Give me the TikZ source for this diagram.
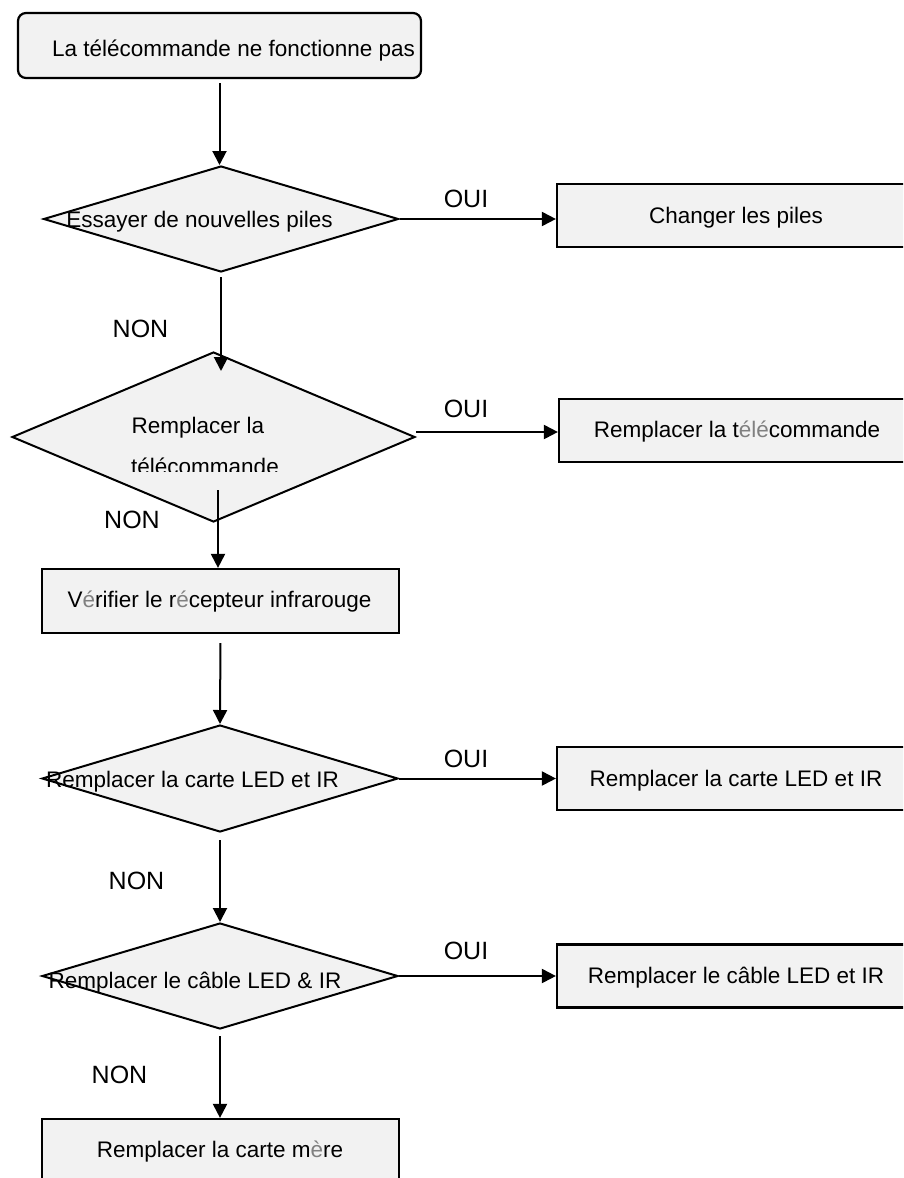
\documentclass[tikz,border=0pt]{standalone}
\usepackage{fontspec}
\setmainfont{Liberation Sans}
\usetikzlibrary{shapes.geometric,arrows.meta,calc}
\definecolor{boxfill}{HTML}{F2F2F2}
\definecolor{accent}{HTML}{808080}
\begin{document}
\begin{tikzpicture}[x=1pt,y=-1pt,
  txt/.style={font=\fontsize{22.5}{27}\selectfont, inner sep=0pt, anchor=base},
  lab/.style={font=\fontsize{25}{30}\selectfont, inner sep=0pt, anchor=base},
  box/.style={draw, line width=2.2pt, fill=boxfill, inner sep=0pt, minimum height=63pt},
  rbox/.style={box, rounded corners=8pt},
  dia/.style={draw, diamond, line width=2pt, fill=boxfill, inner sep=0pt},
  arr/.style={line width=2pt, -{Triangle[length=14pt,width=14pt]}},
  gap/.style={shorten <=4pt}]
\useasboundingbox (0,0) rectangle (903,1178);
\clip (0,0) rectangle (903,1178);

% shapes
\node[rbox, minimum width=403pt, minimum height=65pt] (top) at (219.5,45.5) {};
\node[dia, minimum width=355pt, minimum height=106pt] (d1) at (221,219) {};
\node[dia, minimum width=403pt, minimum height=170pt] (d2) at (213.5,437) {};
\node[box, minimum width=357pt, minimum height=64pt] (v) at (220.5,601) {};
\node[dia, minimum width=356pt, minimum height=107pt] (d3) at (220,778.5) {};
\node[dia, minimum width=356pt, minimum height=106pt] (d4) at (220,976) {};
\node[box, minimum width=357pt, minimum height=64pt] (m) at (220.5,1151) {};
\node[box, minimum width=358pt] (c1) at (736,215.5) {};
\node[box, minimum width=356pt] (c2) at (737,430.5) {};
\node[box, minimum width=358pt] (c3) at (736,778.5) {};
\node[box, minimum width=358pt] (c4) at (736,976) {};

% texts
\node[txt, anchor=base west] (ttop) at (52,56) {La télécommande ne fonctionne pas};
\node[txt] (t1) at (199.5,227) {Essayer de nouvelles piles};
\node[txt] (t2a) at (198,433) {Remplacer la};
\begin{scope}
\clip (0,400) rectangle (450,471);
\node[txt] (t2b) at (205,474) {télécommande};
\end{scope}
\node[txt] (tv) at (219.5,607) {V\textcolor{accent}{é}rifier le r\textcolor{accent}{é}cepteur infrarouge};
\node[txt] (t3) at (192.5,787) {Remplacer la carte LED et IR};
\node[txt] (t4) at (195,988) {Remplacer le câble LED \& IR};
\node[txt] (tm) at (220,1157) {Remplacer la carte m\textcolor{accent}{è}re};
\node[txt] (tc1) at (736,223) {Changer les piles};
\node[txt] (tc2) at (737,437) {Remplacer la t\textcolor{accent}{élé}commande};
\node[txt] (tc3) at (736,786) {Remplacer la carte LED et IR};
\node[txt] (tc4) at (736,983) {Remplacer le câble LED et IR};

% labels
\node[lab] (oui1) at (466,207) {OUI};
\node[lab] (oui2) at (466,417) {OUI};
\node[lab] (oui3) at (466,767) {OUI};
\node[lab] (oui4) at (466,959) {OUI};
\node[lab] (non1) at (140.5,337) {NON};
\node[lab] (non2) at (132,528) {NON};
\node[lab] (non3) at (136.5,889) {NON};
\node[lab] (non4) at (119.5,1083) {NON};

% connectors
\coordinate (n2) at (218,490);
\draw[arr, gap] (top.south) -- (top.south |- d1.north);
\draw[arr, gap] (d1.south) -- ([yshift=-20pt]d1.south |- d2.north);
\draw[arr] (n2) -- (n2 |- v.north);
\draw[arr, shorten <=9pt] (v.south) -- (d3.north);
\draw[arr, shorten <=7pt] (d3.south) -- (d4.north);
\draw[arr, shorten <=6pt] (d4.south) -- (d4.south |- m.north);
\draw[arr] (d1.east) -- (d1.east -| c1.west);
\draw[arr] ([yshift=5pt]d2.east) -- ([yshift=5pt]d2.east -| c2.west);
\draw[arr] (d3.east) -- (d3.east -| c3.west);
\draw[arr] (d4.east) -- (d4.east -| c4.west);
\end{tikzpicture}
\end{document}
